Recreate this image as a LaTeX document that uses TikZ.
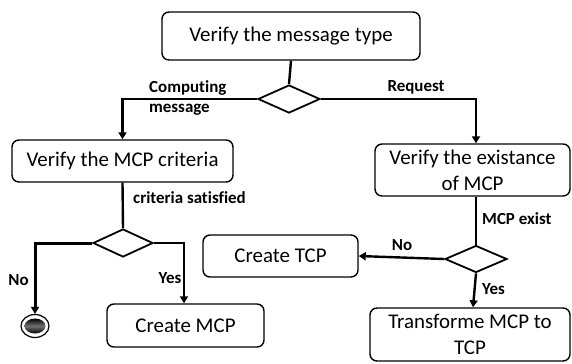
\documentclass[tikz,border=0pt]{standalone}
\usepackage{fontspec}
\setmainfont{Carlito}[Ligatures={NoCommon}]
\usetikzlibrary{shapes.geometric,arrows.meta}
\tikzset{
  stepbox/.style={draw, line width=1.4bp, rounded corners=7bp, inner sep=0pt,
    align=center, font=\fontsize{21}{26}\selectfont},
  choice/.style={draw, shape=diamond, line width=1.8bp, inner sep=0pt},
  flow/.style={line width=2.4bp, -{Triangle[width=8bp,length=7bp]}},
  link/.style={line width=2.4bp},
  tag/.style={inner sep=0pt, align=left, font=\fontsize{17}{20}\selectfont\bfseries}
}
\begin{document}
\begin{tikzpicture}[x=1bp,y=-1bp]
\useasboundingbox (0,0) rectangle (572,363);

% activity boxes
\node[stepbox, minimum width=258bp, minimum height=48bp] (type) at (291,36) {Verify the message type};
\node[stepbox, minimum width=221bp, minimum height=42bp] (crit) at (122.5,161) {Verify the MCP criteria};
\node[stepbox, minimum width=195bp, minimum height=52bp] (exist) at (472.5,170) {Verify the existance\\of MCP};
\node[stepbox, minimum width=155bp, minimum height=42bp] (tcp) at (280.5,256) {Create TCP};
\node[stepbox, minimum width=157bp, minimum height=43bp] (mcp) at (185.5,325.5) {Create MCP};
\node[stepbox, minimum width=200bp, minimum height=53bp] (trans) at (470,334.5) {Transforme MCP to\\TCP};

% decision points
\node[choice, minimum width=62bp, minimum height=28bp] (d1) at (289,99) {};
\node[choice, minimum width=60bp, minimum height=28bp] (d2) at (123,243) {};
\node[choice, minimum width=62bp, minimum height=27bp] (d3) at (476,259) {};

% final state
\node[draw, shape=ellipse, line width=1.2bp, fill=white, minimum width=28bp, minimum height=23bp, inner sep=0pt] (stop) at (35,326) {};
\node[shape=ellipse, minimum width=21bp, minimum height=15bp, inner sep=0pt,
  top color=black, bottom color=black, middle color=black!55] (stopcore) at (stop.center) {};

% connectors
\draw[link] (type.south) -- (d1.north);
\draw[flow] (d1.west) -| (crit.north);
\draw[flow] (d1.east) -| ([xshift=3.5bp]exist.north);
\draw[link] (crit.south) -- (d2.north);
\draw[flow, line width=3bp] (d2.west) -| (stop.north);
\draw[flow] (d2.east) -| ([xshift=-1.5bp]mcp.north);
\draw[link] (d3.north |- exist.south) -- (d3.north);
\draw[flow] (d3.west) -- (tcp.east);
\draw[flow] (d3.south) -- ([xshift=3bp]trans.north);

% branch labels
\node[tag, anchor=west] (lcomp) at (149,98) {Computing\\message};
\node[tag] (lreq) at (416,87) {Request};
\node[tag, anchor=west] (lsat) at (133,198) {criteria satisfied};
\node[tag] (lno1) at (18.5,280) {No};
\node[tag] (lyes1) at (170,278) {Yes};
\node[tag, anchor=west] (lexist) at (482,219) {MCP exist};
\node[tag] (lno2) at (402,245) {No};
\node[tag, anchor=west] (lyes2) at (482,289) {Yes};
\end{tikzpicture}
\end{document}
